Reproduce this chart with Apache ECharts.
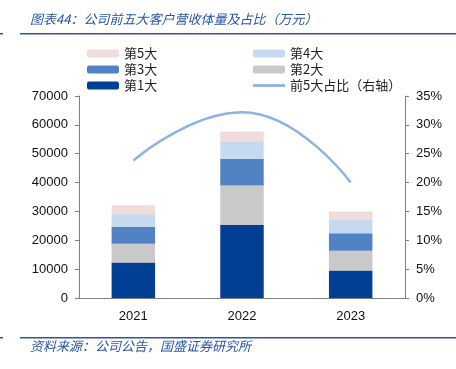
<!DOCTYPE html>
<html>
<head>
<meta charset="utf-8">
<script src="https://cdn.jsdelivr.net/npm/echarts@6/dist/echarts.min.js"></script>
<style>
  html, body { margin: 0; padding: 0; background: #fff; }
  #chart { width: 456px; height: 369px; }
</style>
</head>
<body>
<div id="chart"></div>
<script>
// 年份
const years = ['2021', '2022', '2023'];
// 前五大客户营收（万元）
const top1 = [12300, 25300, 9500];
const top2 = [6500, 13700, 6900];
const top3 = [5900, 9200, 6000];
const top4 = [4300, 6100, 4800];
const top5 = [3100, 3400, 2800];
// 前5大占比（%）
const top5Ratio = [23.8, 32.2, 20.0];

const numFont = 'Liberation Sans';
const cnFont = 'Noto Sans CJK SC';
const blueText = '#2a55a6';

const myChart = echarts.init(document.getElementById('chart'));

const barSeries = (name, data, color) => ({
  name: name,
  type: 'bar',
  stack: 'total',
  barWidth: '40%',
  data: data,
  itemStyle: { color: color },
  emphasis: { disabled: true }
});

const legendText = { fontFamily: cnFont, fontSize: 13, color: '#222' };

const option = {
  animation: false,
  grid: { left: 79, right: 51, top: 96, bottom: 71 },
  legend: [
    {
      orient: 'vertical',
      left: 82, top: 42,
      itemWidth: 32, itemHeight: 8, itemGap: 3,
      textStyle: legendText,
      data: ['第5大', '第3大', '第1大']
    },
    {
      orient: 'vertical',
      left: 248, top: 42,
      itemWidth: 32, itemHeight: 8, itemGap: 3,
      textStyle: legendText,
      data: ['第4大', '第2大', { name: '前5大占比（右轴）', icon: 'path://M0,2.6L32,2.6L32,5.4L0,5.4Z' }]
    }
  ],
  xAxis: {
    type: 'category',
    data: years,
    axisLine: { lineStyle: { color: '#7f7f7f' } },
    axisTick: { inside: true, length: 6, lineStyle: { color: '#7f7f7f' } },
    axisLabel: { fontFamily: numFont, fontSize: 13, color: '#111', margin: 12 }
  },
  yAxis: [
    {
      type: 'value',
      min: 0, max: 70000, interval: 10000,
      splitLine: { show: false },
      axisLine: { show: true, lineStyle: { color: '#7f7f7f' } },
      axisTick: { show: true, length: 4, lineStyle: { color: '#7f7f7f' } },
      axisLabel: { fontFamily: numFont, fontSize: 13, color: '#111', margin: 11, formatter: v => String(v) }
    },
    {
      type: 'value',
      min: 0, max: 35, interval: 5,
      splitLine: { show: false },
      axisLine: { show: true, lineStyle: { color: '#7f7f7f' } },
      axisTick: { show: true, length: 4, lineStyle: { color: '#7f7f7f' } },
      axisLabel: { fontFamily: numFont, fontSize: 13, color: '#111', margin: 11, formatter: '{value}%' }
    }
  ],
  series: [
    barSeries('第1大', top1, '#003f94'),
    barSeries('第2大', top2, '#c9c9c9'),
    barSeries('第3大', top3, '#5183c4'),
    barSeries('第4大', top4, '#c5d9f1'),
    barSeries('第5大', top5, '#f2dcdb'),
    {
      name: '前5大占比（右轴）',
      type: 'line',
      yAxisIndex: 1,
      smooth: true,
      symbol: 'none',
      data: top5Ratio,
      lineStyle: { color: '#8db3e2', width: 2.5 },
      itemStyle: { color: '#8db3e2' }
    }
  ],
  graphic: [
    {
      type: 'text', left: 30, top: 13,
      style: { text: '图表44：公司前五大客户营收体量及占比（万元）', fontFamily: cnFont, fontSize: 13, fontStyle: 'italic', fill: blueText }
    },
    { type: 'rect', shape: { x: 20, y: 33, width: 436, height: 1.5 }, style: { fill: '#2a55a6' } },
    { type: 'rect', shape: { x: 0, y: 33, width: 3, height: 1.5 }, style: { fill: '#2a55a6' } },
    { type: 'rect', shape: { x: 20, y: 337, width: 436, height: 1.5 }, style: { fill: '#2a55a6' } },
    { type: 'rect', shape: { x: 0, y: 337, width: 3, height: 1.5 }, style: { fill: '#2a55a6' } },
    {
      type: 'text', left: 30, top: 340,
      style: { text: '资料来源：公司公告，国盛证券研究所', fontFamily: cnFont, fontSize: 13, fontStyle: 'italic', fill: blueText }
    }
  ]
};

myChart.setOption(option);
</script>
</body>
</html>
